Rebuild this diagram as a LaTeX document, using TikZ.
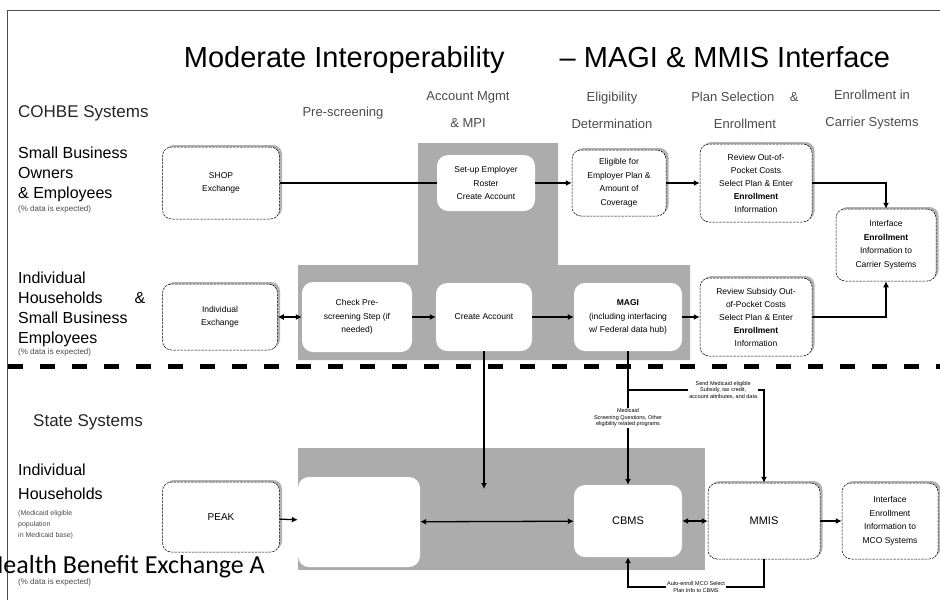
\documentclass[tikz,border=0pt]{standalone}
\usepackage{fontspec}
\setmainfont{Liberation Sans}
\newfontfamily\calfont{Carlito}
\usetikzlibrary{arrows.meta,shadows,positioning}

\tikzstyle{box} = [draw, dash pattern=on 2.5pt off 1pt, line width=0.5pt, rounded corners=9pt, fill=white, drop shadow={shadow xshift=2.5pt, shadow yshift=2pt, fill=gray!60, opacity=1}, align=center, inner sep=2pt, font=\fontsize{8.5}{13.5}\selectfont]
\tikzstyle{inbox} = [fill=white, rounded corners=11pt, align=center, inner sep=2pt, font=\fontsize{8.5}{13.5}\selectfont]
\tikzstyle{head} = [align=center, text=black!70, font=\fontsize{13}{27}\selectfont]
\tikzstyle{group} = [anchor=west, inner sep=0pt, text=black!85, font=\fontsize{17}{20}\selectfont]
\tikzstyle{side} = [align=left, anchor=north west, inner sep=0pt, font=\fontsize{16}{20}\selectfont]
\tikzstyle{note} = [align=left, anchor=north west, inner sep=0pt, text=black!70, font=\fontsize{8}{11}\selectfont]
\tikzstyle{tag} = [fill=white, align=center, inner sep=1pt, font=\fontsize{5.5}{6.5}\selectfont]
\tikzstyle{link} = [line width=1.3pt]
\tikzstyle{shade} = [fill=gray!65]

\begin{document}
\begin{tikzpicture}[x=1pt, y=-1pt, >={Latex[length=6pt,width=6pt]}]
	  \useasboundingbox (0,0) rectangle (940,600);
	  \clip (0,0) rectangle (940,600);
	  \fill [white] (0,0) rectangle (940,600);
	  \draw [line width=0.6pt, black!70] (7,600) -- (7,10) -- (940,10);

	  % shaded areas
	  \fill [shade] (298,265) -- (418,265) -- (418,143) -- (558,143) -- (558,265)
	    -- (690,265) -- (690,360) -- (298,360) -- cycle;
	  \fill [shade] (298,448) rectangle (705,570);

	  \node (title) at (537,60) [font=\fontsize{29}{34}\selectfont] {Moderate Interoperability\hspace{1.9em}– MAGI \& MMIS Interface};

	  \node (cohbe) at (18,113) [group] {COHBE Systems};
	  \node (hpre) at (343,113) [head] {Pre-screening};
	  \node (hacc) at (468,110) [head] {Account Mgmt\\\& MPI};
	  \node (helig) at (612,110) [head] {Eligibility\\Determination};
	  \node (hplan) at (745,110) [head] {Plan Selection\hspace{1.2em}\&\\Enrollment};
	  \node (henr) at (872,110) [head] {Enrollment in\\Carrier Systems};

	  \node (sbo) at (18,147) [side] {Small Business\\Owners\\\& Employees};
	  \node (sbonote) at (18,205) [note] {(\% data is expected)};
	  \node (ihh) at (18,272) [side] {Individual\\Households\hspace{32pt}\&\\Small Business\\Employees};
	  \node (ihhnote) at (18,348) [note] {(\% data is expected)};

	  \draw [line width=5pt, dash pattern=on 15pt off 17pt] (8,366) -- (940,366);

	  \node (state) at (33,422) [group] {State Systems};
	  \node (shh) at (18,464) [side, font=\fontsize{16}{24}\selectfont] {Individual\\Households};
	  \node (shhsub) at (18,510) [note, font=\fontsize{7}{11}\selectfont] {(Medicaid eligible\\population\\in Medicaid base)};
	  \node (shhnote) at (18,578) [note] {(\% data is expected)};

	  % COHBE boxes
	  \node (shop) at (221,183) [box, minimum width=117pt, minimum height=72pt] {SHOP\\Exchange};
	  \node (setup) at (486,183) [inbox, minimum width=98pt, minimum height=56pt] {Set-up Employer\\Roster\\Create Account};
	  \node (elig) at (619,183) [box, minimum width=94pt, minimum height=66pt] {Eligible for\\Employer Plan \&\\Amount of\\Coverage};
	  \node (serv) at (756,183) [box, minimum width=112pt, minimum height=78pt, font=\fontsize{8.5}{13}\selectfont] {Review Out-of-\\Pocket Costs\\Select Plan \& Enter\\\textbf{Enrollment}\\Information};
	  \node (ifc) at (886,245) [box, minimum width=100pt, minimum height=72pt] {Interface\\\textbf{Enrollment}\\Information to\\Carrier Systems};

	  \node (indiv) at (220,317) [box, minimum width=115pt, minimum height=66pt] {Individual\\Exchange};
	  \node (check) at (357,317) [inbox, minimum width=110pt, minimum height=70pt] {Check Pre-\\screening Step (if\\needed)};
	  \node (create) at (484,317) [inbox, minimum width=96pt, minimum height=68pt] {Create Account};
	  \node (magi) at (628,317) [inbox, minimum width=108pt, minimum height=68pt] {\textbf{MAGI}\\(including interfacing\\w/ Federal data hub)};
	  \node (review) at (756,317) [box, minimum width=112pt, minimum height=78pt, font=\fontsize{8.5}{13}\selectfont] {Review Subsidy Out-\\of-Pocket Costs\\Select Plan \& Enter\\\textbf{Enrollment}\\Information};

	  % state boxes
	  \node (peak) at (221,517) [box, minimum width=117pt, minimum height=70pt, font=\fontsize{10}{12}\selectfont] {PEAK};
	  \node (hub) at (359,522) [inbox, minimum width=122pt, minimum height=90pt] {};
	  \node (cbms) at (628,521) [inbox, minimum width=108pt, minimum height=72pt, font=\fontsize{11}{13}\selectfont] {CBMS};
	  \node (mmis) at (764,521) [box, minimum width=112pt, minimum height=76pt, font=\fontsize{11}{13}\selectfont] {MMIS};
	  \node (mco) at (890,521) [box, minimum width=96pt, minimum height=76pt] {Interface\\Enrollment\\Information to\\MCO Systems};

	  \coordinate (acct) at (484,489);
	  \coordinate (fork) at (628,390);
	  \coordinate (loopr) at (764,587);
	  \coordinate (loopl) at (628,587);

	  \draw [link] (shop) -- (setup);
	  \draw [link,->] (setup) -- (elig);
	  \draw [link,->] (elig) -- (serv);
	  \draw [link,->] (serv) -| (ifc);
	  \draw [link,<->] (indiv) -- (check);
	  \draw [link,->] (check) -- (create);
	  \draw [link,->] (create) -- (magi);
	  \draw [link,->] (magi) -- (review);
	  \draw [link,->] (review) -| (ifc);
	  \draw [link,->] (create) -- (acct);
	  \draw [link,->] (magi) -- (cbms) node [tag, pos=0.5] {Medicaid\\Screening Questions, Other\\eligibility related programs};
	  \draw [link,->] (fork) -| (mmis) node [tag, pos=0.35] {Send Medicaid eligible\\Subsidy, tax credit,\\account attributes, and data};
	  \draw [link,->] (mmis) -- (loopr) -- (loopl) node [tag, midway] {Auto-enroll MCO Select\\Plan Info to CBMS} -- (cbms);
	  \draw [link,->] (peak) -- (hub);
	  \draw [link,<->] (hub) -- (cbms);
	  \draw [link,<->] (cbms) -- (mmis);
	  \draw [link,->] (mmis) -- (mco);

	  \node (wm) at (-13,573) [anchor=base west, inner sep=0pt, font=\calfont\fontsize{26}{30}\selectfont] {Health Benefit Exchange A};
\end{tikzpicture}
\end{document}
